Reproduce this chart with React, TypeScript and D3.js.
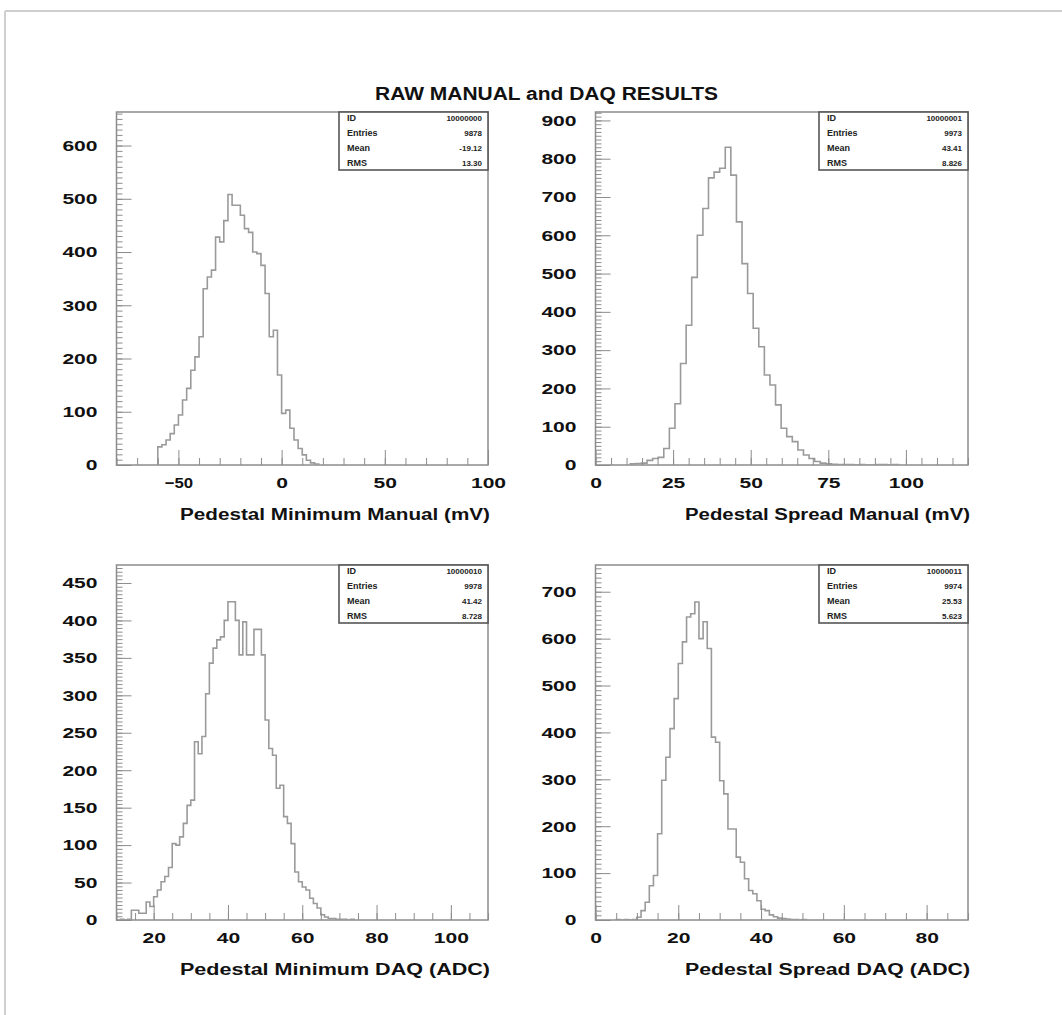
import React, { useRef, useEffect } from "react";
import * as d3 from "d3";

const mainTitle = "RAW MANUAL and DAQ RESULTS";

// Pedestal Minimum Manual (mV), 2 mV bins from -60
const minManualStart = -60;
const minManualBin = 2;
const minManualCounts = [
  34, 38, 47, 59, 75, 94, 122, 144, 178, 203, 241, 331, 353, 366, 428, 419, 459, 508, 488, 488,
  469, 444, 437, 400, 397, 375, 322, 241, 253, 169, 97, 103, 69, 47, 31, 19, 9, 4, 2,
];

// Pedestal Spread Manual (mV), 1.8 mV bins from 11.2
const spreadManualStart = 11.2;
const spreadManualBin = 1.8;
const spreadManualCounts = [
  3, 4, 5, 12, 17, 20, 43, 96, 160, 265, 365, 490, 600, 670, 750, 765, 775, 830, 757, 635,
  526, 448, 357, 309, 235, 209, 157, 96, 74, 61, 39, 26, 17, 9, 5, 3, 2, 1, 1, 1, 0, 1, 0, 0, 1, 1, 0, 1,
];

// Pedestal Minimum DAQ (ADC), 1 count bins from 11
const minDaqStart = 11;
const minDaqBin = 1;
const minDaqCounts = [
  1, 0, 1, 13, 13, 9, 9, 24, 18, 31, 40, 51, 58, 70, 102, 100, 111, 129, 153, 160,
  238, 222, 245, 302, 343, 363, 374, 378, 400, 425, 425, 400, 354, 398, 354, 354, 388, 388, 354, 267,
  229, 220, 176, 180, 138, 129, 102, 64, 51, 44, 40, 29, 22, 16, 7, 4, 2, 2, 1, 1, 1, 0, 1,
];

// Pedestal Spread DAQ (ADC), 1 count bins from 5
const spreadDaqStart = 5;
const spreadDaqBin = 1;
const spreadDaqCounts = [
  1, 0, 1, 0, 1, 6, 20, 38, 73, 95, 184, 298, 347, 408, 472, 547, 593, 646, 653, 678,
  600, 636, 579, 390, 379, 297, 269, 194, 194, 134, 123, 88, 63, 56, 41, 23, 20, 11, 7, 4,
  3, 2, 1, 1, 0, 1,
];

const xTitles = [
  "Pedestal Minimum Manual (mV)",
  "Pedestal Spread Manual (mV)",
  "Pedestal Minimum DAQ (ADC)",
  "Pedestal Spread DAQ (ADC)",
];
const xDomains = [[-80, 100], [0, 120], [10, 110], [0, 90]];
const xMajorTicks = [[-50, 0, 50, 100], [0, 25, 50, 75, 100], [20, 40, 60, 80, 100], [0, 20, 40, 60, 80]];
const xMinorStep = [10, 5, 5, 5];
const yMaxes = [663, 922, 474, 757];
const yMajorTicks = [
  [0, 100, 200, 300, 400, 500, 600],
  [0, 100, 200, 300, 400, 500, 600, 700, 800, 900],
  [0, 50, 100, 150, 200, 250, 300, 350, 400, 450],
  [0, 100, 200, 300, 400, 500, 600, 700],
];
const yMinorStep = [10, 10, 5, 10];

const statLabels = ["ID", "Entries", "Mean", "RMS"];
const statValues = [
  ["10000000", "9878", "-19.12", "13.30"],
  ["10000001", "9973", "43.41", "8.826"],
  ["10000010", "9978", "41.42", "8.728"],
  ["10000011", "9974", "25.53", "5.623"],
];

const histStarts = [minManualStart, spreadManualStart, minDaqStart, spreadDaqStart];
const histBins = [minManualBin, spreadManualBin, minDaqBin, spreadDaqBin];
const histCounts = [minManualCounts, spreadManualCounts, minDaqCounts, spreadDaqCounts];

const frames = [
  { left: 116.5, right: 488, top: 112, bottom: 465 },
  { left: 595.5, right: 968, top: 112, bottom: 465 },
  { left: 116.5, right: 488, top: 565, bottom: 920 },
  { left: 595.5, right: 968, top: 565, bottom: 920 },
];

const FONT = "'Liberation Sans', Arial, Helvetica, sans-serif";
const labelWidth = (s: string) => s.replace("-", "").length * 11.7 + (s.includes("-") ? 5 : 0);

function Panel({ i }: { i: number }) {
  const ref = useRef<SVGGElement>(null);
  const f = frames[i];
  const x = d3.scaleLinear().domain(xDomains[i]).range([f.left, f.right]);
  const y = d3.scaleLinear().domain([0, yMaxes[i]]).range([f.bottom, f.top]);

  const counts = histCounts[i];
  const start = histStarts[i];
  const bw = histBins[i];
  const pts: [number, number][] = [[start, 0]];
  counts.forEach((c, k) => pts.push([start + k * bw, c]));
  pts.push([start + counts.length * bw, 0]);
  const line = d3
    .line<[number, number]>()
    .x((d) => x(d[0]))
    .y((d) => y(d[1]))
    .curve(d3.curveStepAfter);

  useEffect(() => {
    const g = d3.select(ref.current);
    g.selectAll("*").remove();
    const [x0, x1] = xDomains[i];
    const xMinor = d3.range(Math.ceil(x0 / xMinorStep[i]) * xMinorStep[i], x1 + 0.001, xMinorStep[i]);
    const yMinor = d3.range(0, yMaxes[i], yMinorStep[i]);

    const style = (sel: any) => {
      sel.select(".domain").remove();
      sel.selectAll("line").attr("stroke", "#8c8c8c").attr("stroke-width", 1);
      sel
        .selectAll("text")
        .attr("font-family", FONT)
        .attr("font-weight", "bold")
        .attr("font-size", 15)
        .attr("fill", "#111")
        .attr("textLength", (d: number) => labelWidth(String(d)))
        .attr("lengthAdjust", "spacingAndGlyphs");
    };

    g.append("g")
      .attr("transform", `translate(${f.left},0)`)
      .call(d3.axisLeft(y).tickValues(yMinor).tickSize(-6).tickFormat(() => ""))
      .call(style);
    g.append("g")
      .attr("transform", `translate(${f.left},0)`)
      .call(d3.axisLeft(y).tickValues(yMajorTicks[i]).tickSize(-15).tickPadding(19))
      .call(style);
    g.append("g")
      .attr("transform", `translate(0,${f.bottom})`)
      .call(d3.axisBottom(x).tickValues(xMinor).tickSize(-7).tickFormat(() => ""))
      .call(style);
    g.append("g")
      .attr("transform", `translate(0,${f.bottom})`)
      .call(d3.axisBottom(x).tickValues(xMajorTicks[i]).tickSize(-15).tickPadding(12))
      .call(style);
  }, [i]);

  const boxW = 149;
  const boxH = 58;
  const bx = f.right - boxW;
  return (
    <g>
      <defs>
        <clipPath id={`clip${i}`}>
          <rect x={f.left} y={f.top} width={f.right - f.left} height={f.bottom - f.top} />
        </clipPath>
      </defs>
      <rect
        x={f.left}
        y={f.top}
        width={f.right - f.left}
        height={f.bottom - f.top}
        fill="none"
        stroke="#8c8c8c"
        strokeWidth={1.5}
      />
      <path
        d={line(pts) || ""}
        fill="none"
        stroke="#9a9a9a"
        strokeWidth={1.6}
        clipPath={`url(#clip${i})`}
      />
      <g ref={ref} />
      <rect x={bx} y={f.top} width={boxW} height={boxH} fill="white" stroke="#555" strokeWidth={1.6} />
      {statLabels.map((lab, r) => (
        <g key={lab} fontFamily={FONT} fontWeight="bold" fill="#222">
          <text x={bx + 8} y={f.top + 9 + r * 15} fontSize={9}>
            {lab}
          </text>
          <text x={f.right - 6} y={f.top + 9 + r * 15} fontSize={8} textAnchor="end">
            {statValues[i][r]}
          </text>
        </g>
      ))}
      <text
        x={f.right + 2}
        y={f.bottom + 55}
        textAnchor="end"
        fontFamily={FONT}
        fontWeight="bold"
        fontSize={16}
        fill="#111"
        textLength={i % 2 === 0 ? 310 : 285}
        lengthAdjust="spacingAndGlyphs"
      >
        {xTitles[i]}
      </text>
    </g>
  );
}

export default function App() {
  return (
    <svg
      width={1062}
      height={1015}
      style={{ position: "absolute", left: 0, top: 0, background: "white" }}
    >
      <rect x={0} y={0} width={1062} height={1015} fill="white" />
      <line x1={5} y1={11} x2={1062} y2={11} stroke="#cfcfcf" strokeWidth={2} />
      <line x1={5} y1={11} x2={5} y2={1015} stroke="#cfcfcf" strokeWidth={2} />
      <text
        x={546.5}
        y={100}
        textAnchor="middle"
        fontFamily={FONT}
        fontWeight="bold"
        fontSize={18}
        fill="#111"
        textLength={343}
        lengthAdjust="spacingAndGlyphs"
      >
        {mainTitle}
      </text>
      {frames.map((_, i) => (
        <Panel key={i} i={i} />
      ))}
    </svg>
  );
}
